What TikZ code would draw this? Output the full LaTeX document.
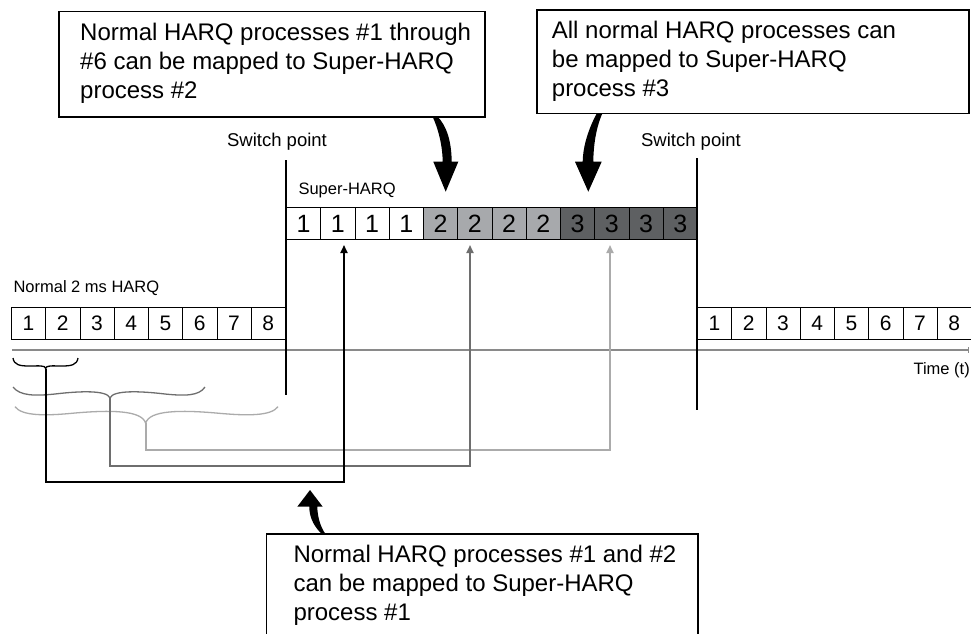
\documentclass[tikz,border=0pt]{standalone}
\usepackage{fontspec}
\setmainfont{Liberation Sans}
\usetikzlibrary{arrows.meta}
\definecolor{cgray}{HTML}{6E6E6E}
\definecolor{clight}{HTML}{ABABAB}
\definecolor{fillmid}{HTML}{A7A9AC}
\definecolor{filldark}{HTML}{5E6062}
\definecolor{axisgray}{HTML}{8A8A8A}
\begin{document}
\begin{tikzpicture}[x=1pt,y=-1pt,
  cell/.style={draw=black,line width=0.9pt,minimum width=34.25pt,minimum height=32.3pt,inner sep=0pt,anchor=north west,font=\fontsize{21}{21}\selectfont},
  scell/.style={cell,font=\fontsize{25}{25}\selectfont},
  callout/.style={draw=black,line width=1.6pt,inner sep=0pt,anchor=north west,fill=white},
  callouttext/.style={inner sep=0pt,anchor=north west,align=left,font=\fontsize{24}{29}\selectfont},
  lbl/.style={inner sep=0pt,font=\fontsize{16.5}{16.5}\selectfont},
  swlbl/.style={inner sep=0pt,font=\fontsize{18.5}{18.5}\selectfont},
  switchline/.style={line width=1.6pt,black},
  conn/.style={line width=1.8pt,-{Triangle[width=7pt,length=8pt]}},
  bracestyle/.style={line width=1.3pt},
  fatarrow/.style={fill=black}
]
\useasboundingbox (0,0) rectangle (971,633);
\clip (0,0) rectangle (971,633);

% labels
\node[swlbl] (swlblL) at (277,141.7) {Switch point};
\node[swlbl] (swlblR) at (691,141.7) {Switch point};
\node[lbl,anchor=west] (superlbl) at (298.3,190) {Super-HARQ};
\node[lbl,anchor=west] (normlbl) at (13.3,288.3) {Normal 2 ms HARQ};
\node[lbl,anchor=east] (timelbl) at (970,370) {Time (t)};

% time axis
\coordinate (axL) at (12,350);
\coordinate (axR) at (968,350);
\draw[axisgray,line width=1.2pt] (axL) -- (axR);
\draw[axisgray,line width=1pt] (968,347) -- (968,353);

% normal HARQ cells
\foreach \i in {1,...,8} {
  \node[cell] (nl\i) at ({11+34.25*(\i-1)},306.7) {\i};
  \node[cell] (nr\i) at ({697+34.25*(\i-1)},306.7) {\i};
}
% super HARQ cells
\foreach \i in {1,...,4} {
  \node[scell] (s\i) at ({286+34.25*(\i-1)},207) {1};
}
\foreach \i in {5,...,8} {
  \node[scell,fill=fillmid] (s\i) at ({286+34.25*(\i-1)},207) {2};
}
\foreach \i in {9,...,12} {
  \node[scell,fill=filldark] (s\i) at ({286+34.25*(\i-1)},207) {3};
}

% switch lines
\coordinate (swLtop) at (286,160);
\coordinate (swLbot) at (286,395);
\coordinate (swRtop) at (697,158);
\coordinate (swRbot) at (697,410);
\draw[switchline] (swLtop) -- (swLbot);
\draw[switchline] (swRtop) -- (swRbot);

% braces
\coordinate (b1tip) at (45.7,368.5);
\coordinate (b2tip) at (110,398);
\coordinate (b3tip) at (145.7,423.3);
\draw[bracestyle,black] (13,358) .. controls (14,365) and (20,366) .. (29,366)
  .. controls (38,366) and (45.7,365) .. (b1tip)
  .. controls (45.7,365) and (53,366) .. (62,366)
  .. controls (71,366) and (77,365) .. (78,358);
\draw[bracestyle,cgray] (13,387) .. controls (20,396) and (35,396) .. (55,394)
  .. controls (80,391) and (107,390) .. (b2tip)
  .. controls (113,390) and (140,391) .. (165,394)
  .. controls (185,396) and (199,396) .. (205,387);
\draw[bracestyle,clight] (15,406.7) .. controls (22,416) and (45,416) .. (75,413)
  .. controls (110,410) and (142,410) .. (b3tip)
  .. controls (149,410) and (181,410) .. (216,413)
  .. controls (248,416) and (271,416) .. (278,406.7);

% connectors
\coordinate (j1) at (344,482);
\coordinate (j2) at (470,466);
\coordinate (j3) at (610,450);
\coordinate (t1) at (344,245);
\coordinate (t2) at (470,245);
\coordinate (t3) at (610,245);
\draw[conn,clight] (b3tip) |- (j3) -- (t3);
\draw[conn,cgray] (b2tip) |- (j2) -- (t2);
\draw[conn,black] (b1tip) |- (j1) -- (t1);

% callout boxes
\node[callout,minimum width=426pt,minimum height=105.3pt] (box1) at (58,10.7) {};
\node[callouttext] (txt1) at (80,22.8) {Normal HARQ processes \#1 through\\\#6 can be mapped to Super-HARQ\\process \#2};
\node[callout,minimum width=432.3pt,minimum height=103.4pt] (box2) at (536,9.3) {};
\node[callouttext] (txt2) at (551.7,20.8) {All normal HARQ processes can\\be mapped to Super-HARQ\\process \#3};
\node[callout,minimum width=431.6pt,minimum height=130pt] (box3) at (265.7,533.3) {};
\node[callouttext] (txt3) at (293.3,544.5) {Normal HARQ processes \#1 and \#2\\can be mapped to Super-HARQ\\process \#1};

% fat curved arrows
\fill[fatarrow] (432.3,116) .. controls (438,128) and (442.5,145) .. (442.7,161.7)
  -- (433.3,161.7) -- (445.7,191.7) -- (458.3,161.7) -- (451.7,161.7)
  .. controls (451.5,142) and (447,126) .. (437,116) -- cycle;
\fill[fatarrow] (596.7,113.5) .. controls (589,128) and (583,145) .. (582.7,161.7)
  -- (575,161.7) -- (588.3,191.7) -- (601.7,161.7) -- (593.3,161.7)
  .. controls (593.5,145) and (596,128) .. (602.3,113.5) -- cycle;
\fill[fatarrow] (321,533.3) .. controls (312,524) and (309.3,515) .. (309.3,506.7)
  -- (297.3,506.7) -- (310,490) -- (322.7,506.7) -- (317.3,506.7)
  .. controls (317.5,516) and (320,526) .. (325,533.3) -- cycle;
\end{tikzpicture}
\end{document}
